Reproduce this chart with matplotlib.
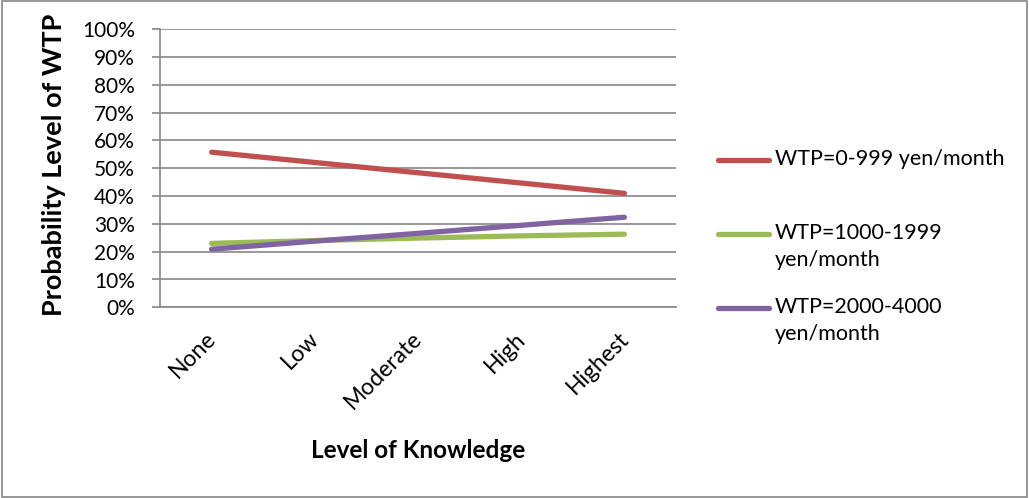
import matplotlib
matplotlib.use("Agg")
import matplotlib.pyplot as plt
from matplotlib.patches import Rectangle
from matplotlib.lines import Line2D
from matplotlib.transforms import ScaledTranslation

plt.rcParams['font.family'] = ['Lato', 'DejaVu Sans']

categories = ["None", "Low", "Moderate", "High", "Highest"]
series_labels = ["WTP=0-999 yen/month", "WTP=1000-1999\nyen/month", "WTP=2000-4000\nyen/month"]
wtp_0_999 = [55.8, 52.1, 48.4, 44.7, 41.0]
wtp_1000_1999 = [23.0, 24.0, 24.9, 25.7, 26.3]
wtp_2000_4000 = [20.9, 23.8, 26.6, 29.5, 32.4]
colors = ["#C0504D", "#9BBB59", "#8064A2"]
yticks = [0, 10, 20, 30, 40, 50, 60, 70, 80, 90, 100]

W, H = 1029, 498
fig = plt.figure(figsize=(W/100, H/100), dpi=100)
ax = fig.add_axes([160/W, 1-307.3/H, 516/W, 278/H])

x = list(range(len(categories)))
all_series = [wtp_0_999, wtp_1000_1999, wtp_2000_4000]
for vals, c, lab in zip(all_series, colors, series_labels):
    ax.plot(x, vals, color=c, lw=3.8, solid_capstyle='round', label=lab)

ax.set_xlim(-0.5, len(categories) - 0.5)
ax.set_ylim(0, 100)
ax.set_yticks(yticks)
ax.set_yticklabels([f"{v}%" for v in yticks], fontsize=15)
ax.set_xticks(x)
ax.set_xticklabels(categories, rotation=45, ha='right', fontsize=16.5)
ax.tick_params(axis='x', length=0, pad=15)
ax.tick_params(axis='y', length=6, color='#868686', width=1.2, pad=12)
off = ScaledTranslation(6/72, 0, fig.dpi_scale_trans)
for lbl in ax.get_xticklabels():
    lbl.set_transform(lbl.get_transform() + off)
ax.yaxis.grid(True, color='#868686', lw=1.2)
ax.set_axisbelow(True)
for s in ['top', 'right']:
    ax.spines[s].set_visible(False)
for s in ['left', 'bottom']:
    ax.spines[s].set_color('#868686')
    ax.spines[s].set_linewidth(1.2)

fig.text(54/W, 1-165/H, "Probability Level of WTP", fontsize=19.5, fontweight='bold',
         rotation=90, ha='center', va='center')
fig.text(418/W, 1-450/H, "Level of Knowledge", fontsize=17.5, fontweight='bold',
         ha='center', va='center')

# legend
leg_y = [160, 234, 308]
for lab, c, yy in zip(series_labels, colors, leg_y):
    fig.add_artist(Line2D([718/W, 769/W], [1-yy/H, 1-yy/H], color=c, lw=3.8,
                          solid_capstyle='round', transform=fig.transFigure))
    fig.text(775/W, 1-(yy-11)/H, lab, fontsize=15.5, ha='left', va='top',
             linespacing=1.45)

fig.patches.append(Rectangle((0.002, 0.002), 0.996, 0.996, transform=fig.transFigure,
                             fill=False, edgecolor='#868686', lw=1.2))

fig.savefig("out.png", dpi=100)
